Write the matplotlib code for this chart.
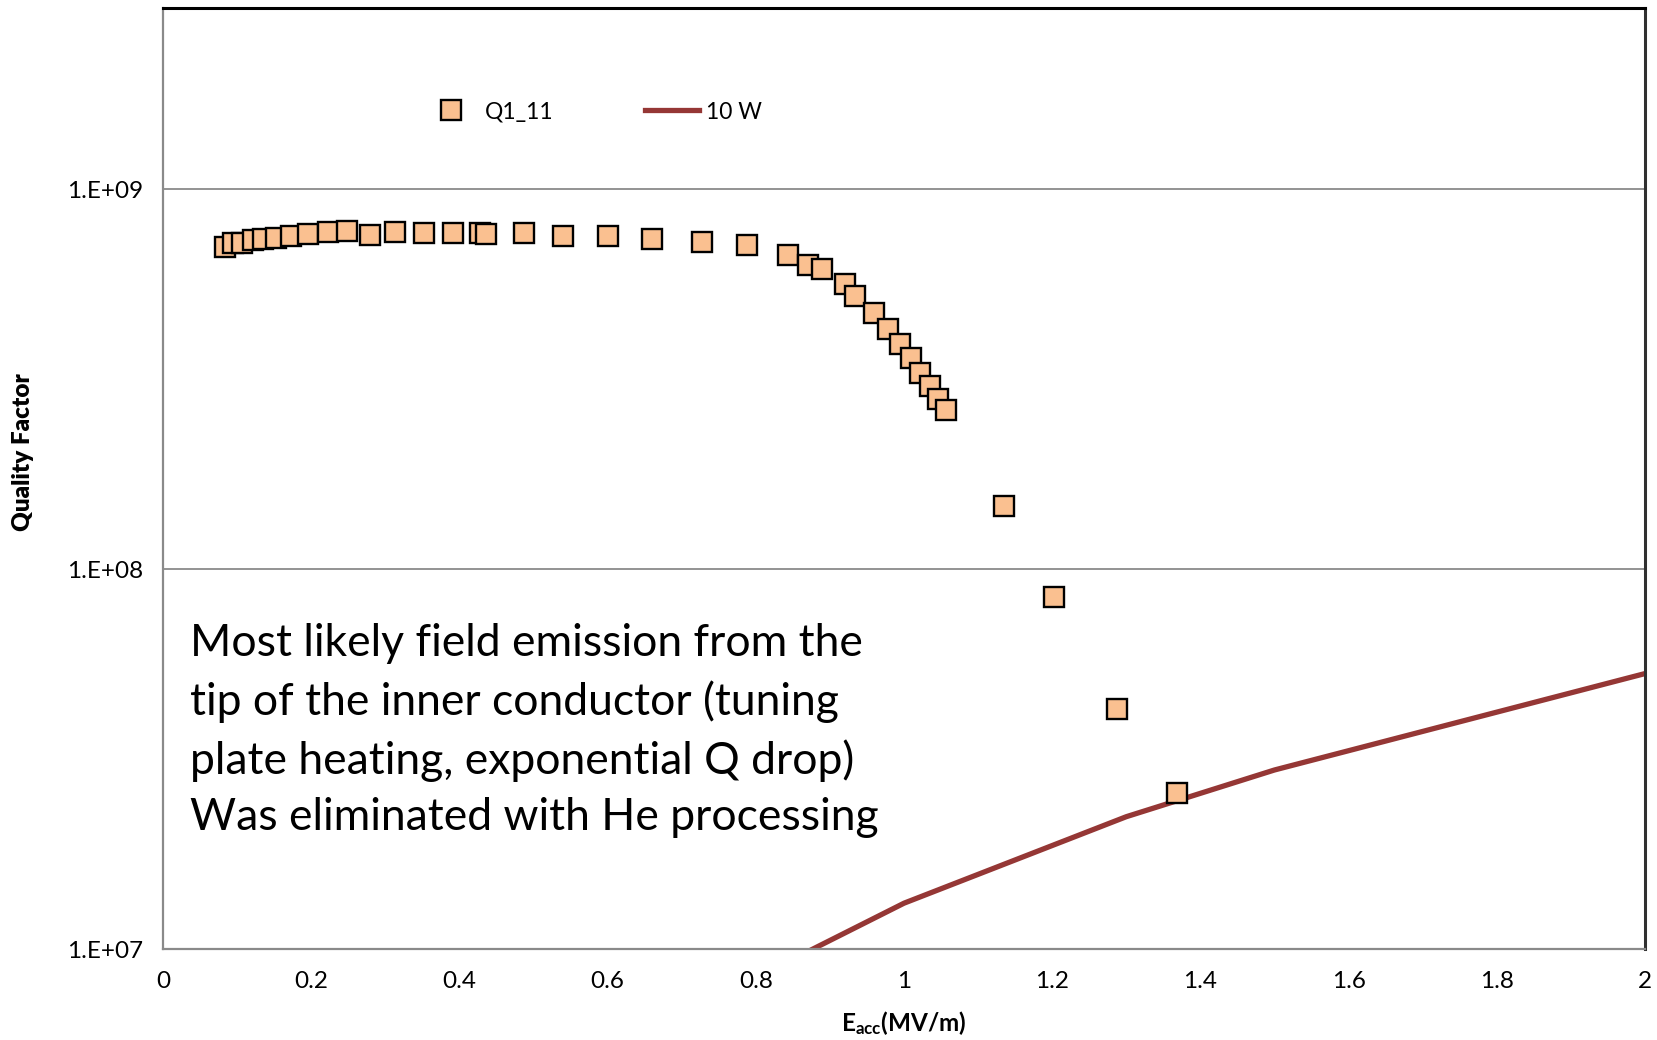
import matplotlib
matplotlib.use('Agg')
import matplotlib.pyplot as plt
import numpy as np

plt.rcParams['font.family'] = ['Lato', 'DejaVu Sans']
plt.rcParams['mathtext.fontset'] = 'custom'
plt.rcParams['mathtext.rm'] = 'Lato'
plt.rcParams['mathtext.bf'] = 'Lato:bold'

# Q1_11 measurement (Eacc in MV/m, quality factor)
eacc_q1 = [0.084, 0.095, 0.107, 0.121, 0.135, 0.153, 0.173, 0.196, 0.222, 0.248,
           0.279, 0.313, 0.352, 0.392, 0.428, 0.436, 0.487, 0.540, 0.600, 0.660,
           0.728, 0.788, 0.843, 0.870, 0.890, 0.921, 0.934, 0.959, 0.979, 0.995,
           1.010, 1.022, 1.035, 1.046, 1.057, 1.135, 1.203, 1.288, 1.369]
q_q1 = [7.05e8, 7.21e8, 7.23e8, 7.35e8, 7.38e8, 7.46e8, 7.54e8, 7.64e8, 7.71e8, 7.75e8,
        7.59e8, 7.72e8, 7.69e8, 7.69e8, 7.69e8, 7.62e8, 7.66e8, 7.55e8, 7.55e8, 7.40e8,
        7.26e8, 7.12e8, 6.70e8, 6.31e8, 6.17e8, 5.62e8, 5.24e8, 4.72e8, 4.30e8, 3.92e8,
        3.60e8, 3.29e8, 3.04e8, 2.81e8, 2.63e8, 1.47e8, 8.46e7, 4.29e7, 2.57e7]

# 10 W power line
eacc_10w = [0.8, 1.0, 1.3, 1.5, 2.0]
q_10w = [8.4e6, 1.32e7, 2.23e7, 2.96e7, 5.31e7]

xticks = [0, 0.2, 0.4, 0.6, 0.8, 1, 1.2, 1.4, 1.6, 1.8, 2]
xtick_labels = ['0', '0.2', '0.4', '0.6', '0.8', '1', '1.2', '1.4', '1.6', '1.8', '2']
yticks = [1e7, 1e8, 1e9]
ytick_labels = ['1.E+07', '1.E+08', '1.E+09']

note = ("Most likely field emission from the\n"
        "tip of the inner conductor (tuning\n"
        "plate heating, exponential Q drop)\n"
        "Was eliminated with He processing")

W, H = 1658, 1040
fig = plt.figure(figsize=(W / 100, H / 100), dpi=100)
ax = fig.add_axes([163 / W, 1 - 949 / H, (1645 - 163) / W, (949 - 7.5) / H])

ax.plot(eacc_q1, q_q1, linestyle='none', marker='s', markersize=14,
        markerfacecolor='#FAC090', markeredgecolor='black', markeredgewidth=1.7,
        label='Q1_11', zorder=3)
ax.plot(eacc_10w, q_10w, color='#953735', linewidth=3.8, label='10 W', zorder=2)

ax.set_yscale('log')
ax.set_xlim(0, 2)
ax.set_ylim(1e7, 3.01e9)
ax.set_xticks(xticks)
ax.set_xticklabels(xtick_labels)
ax.set_yticks(yticks)
ax.set_yticklabels(ytick_labels)
ax.yaxis.set_minor_locator(matplotlib.ticker.NullLocator())
ax.tick_params(axis='both', length=0, labelsize=17.5)
ax.tick_params(axis='x', pad=16)
ax.tick_params(axis='y', pad=14)

ax.grid(axis='y', which='major', color='#8a8a8a', linewidth=1.3)
ax.set_axisbelow(True)

for side in ['left', 'bottom']:
    ax.spines[side].set_color('#8a8a8a')
    ax.spines[side].set_linewidth(1.6)
ax.spines['top'].set_color('black')
ax.spines['top'].set_linewidth(2.2)
ax.spines['right'].set_color('#303030')
ax.spines['right'].set_linewidth(2.2)

fig.text(23 / W, 1 - 452 / H, 'Quality Factor', rotation=90, fontsize=17.5,
         fontweight='heavy', ha='center', va='center')
fig.text(904 / W, 1 - 1023 / H, r'$\mathbf{E_{acc}(MV/m)}$', fontsize=17.5,
         ha='center', va='center')

fig.text(190 / W, 1 - 623 / H, note, fontsize=32, ha='left', va='top',
         linespacing=1.47)

ax.legend(loc='center left', bbox_to_anchor=(424 / W, 1 - 112 / H),
          bbox_transform=fig.transFigure, ncol=2, frameon=False, fontsize=16.5,
          borderpad=0, borderaxespad=0, handlelength=2.35, handletextpad=0.3,
          columnspacing=4.0)

fig.savefig('out.png', dpi=100)
